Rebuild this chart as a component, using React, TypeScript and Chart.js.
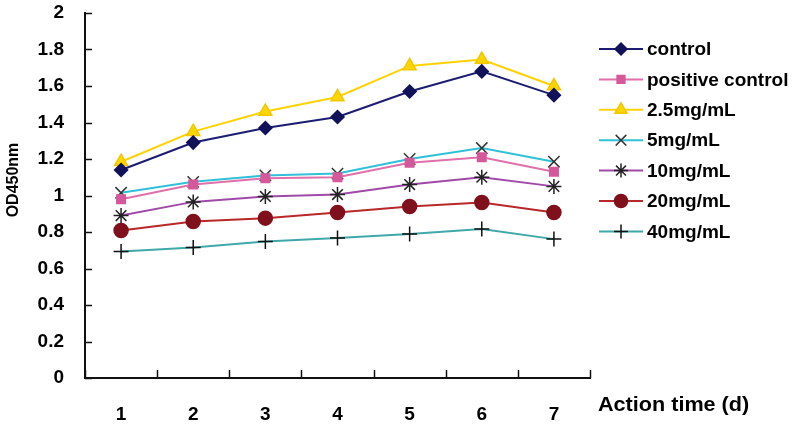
import React, { useEffect, useRef } from "react";
import { Chart, registerables } from "chart.js";
import { drawPoint } from "chart.js/helpers";

Chart.register(...registerables);

const categories = ["1", "2", "3", "4", "5", "6", "7"];
const seriesNames = ["control", "positive control", "2.5mg/mL", "5mg/mL", "10mg/mL", "20mg/mL", "40mg/mL"];
const control = [1.14, 1.29, 1.37, 1.43, 1.57, 1.68, 1.55];
const positiveControl = [0.98, 1.06, 1.094, 1.10, 1.18, 1.21, 1.13];
const mg2_5 = [1.185, 1.35, 1.46, 1.54, 1.71, 1.745, 1.60];
const mg5 = [1.015, 1.075, 1.11, 1.12, 1.20, 1.26, 1.185];
const mg10 = [0.89, 0.965, 0.995, 1.005, 1.06, 1.10, 1.05];
const mg20 = [0.808, 0.858, 0.876, 0.907, 0.94, 0.962, 0.907];
const mg40 = [0.693, 0.715, 0.748, 0.767, 0.789, 0.816, 0.761];
const yTicks = [0, 0.2, 0.4, 0.6, 0.8, 1, 1.2, 1.4, 1.6, 1.8, 2];
const yTitle = "OD450nm";
const xTitle = "Action time (d)";

const FONT = "'Liberation Sans', Arial, sans-serif";

const styles = [
  { line: "#1c1c72", fill: "#12125a", stroke: "#12125a", style: "rectRot", r: 6.5 },
  { line: "#e070aa", fill: "#d4589a", stroke: "#d4589a", style: "rect", r: 6 },
  { line: "#ffd200", fill: "#ffd400", stroke: "#f0c800", style: "triangle", r: 7.5 },
  { line: "#30c0d8", fill: "rgba(0,0,0,0)", stroke: "#333333", style: "crossRot", r: 8 },
  { line: "#a04aa8", fill: "rgba(0,0,0,0)", stroke: "#222222", style: "star", r: 7.5 },
  { line: "#b82828", fill: "#80101c", stroke: "#80101c", style: "circle", r: 7 },
  { line: "#40a8a8", fill: "rgba(0,0,0,0)", stroke: "#111111", style: "cross", r: 7.5 },
];
const seriesData = [control, positiveControl, mg2_5, mg5, mg10, mg20, mg40];

const decorPlugin = {
  id: "decor",
  afterDraw(chart: any) {
    const ctx = chart.ctx;
    const xs = chart.scales.x;
    const ys = chart.scales.y;
    const area = chart.chartArea;
    ctx.save();
    ctx.strokeStyle = "#111";
    ctx.lineWidth = 1.5;
    yTicks.forEach((v) => {
      const y = Math.round(ys.getPixelForValue(v)) + 0.5;
      ctx.beginPath();
      ctx.moveTo(area.left, y);
      ctx.lineTo(area.left + 7, y);
      ctx.stroke();
    });
    const pts = categories.map((_, i) => xs.getPixelForValue(i));
    const half = (pts[1] - pts[0]) / 2;
    const bounds = [pts[0] - half, ...pts.map((p) => p + half)];
    bounds.forEach((b) => {
      const x = Math.round(b) + 0.5;
      ctx.beginPath();
      ctx.moveTo(x, area.bottom);
      ctx.lineTo(x, area.bottom - 8);
      ctx.stroke();
    });
    ctx.fillStyle = "#000";
    ctx.font = `bold 20px ${FONT}`;
    ctx.textBaseline = "middle";
    ctx.textAlign = "left";
    ctx.save();
    ctx.translate(598, 405);
    ctx.scale(1.08, 1);
    ctx.fillText(xTitle, 0, 0);
    ctx.restore();
    ctx.save();
    ctx.translate(14, 180);
    ctx.rotate(-Math.PI / 2);
    ctx.textAlign = "center";
    ctx.font = `bold 16px ${FONT}`;
    ctx.fillText(yTitle, 0, 0);
    ctx.restore();
    ctx.font = `bold 19px ${FONT}`;
    seriesNames.forEach((name, i) => {
      const s = styles[i];
      const y = 49 + 30.4 * i;
      ctx.strokeStyle = s.line;
      ctx.lineWidth = 2;
      ctx.beginPath();
      ctx.moveTo(599, y);
      ctx.lineTo(643, y);
      ctx.stroke();
      ctx.fillStyle = s.fill;
      ctx.strokeStyle = s.stroke;
      ctx.lineWidth = 1.5;
      drawPoint(ctx, { pointStyle: s.style, radius: s.r - 0.5, rotation: 0, borderWidth: 1.5 }, 621, y);
      ctx.fillStyle = "#000";
      ctx.textAlign = "left";
      ctx.fillText(name, 647, y + 1);
    });
    ctx.restore();
  },
};

export default function App() {
  const ref = useRef<HTMLCanvasElement>(null);
  useEffect(() => {
    if (!ref.current) return;
    const chart = new Chart(ref.current, {
      type: "line",
      data: {
        labels: categories,
        datasets: seriesNames.map((name, i) => ({
          label: name,
          data: seriesData[i],
          borderColor: styles[i].line,
          borderWidth: 2,
          backgroundColor: styles[i].fill,
          pointBackgroundColor: styles[i].fill,
          pointBorderColor: styles[i].stroke,
          pointBorderWidth: 1.5,
          pointStyle: styles[i].style as any,
          pointRadius: styles[i].r,
          tension: 0,
          fill: false,
        })),
      },
      options: {
        responsive: false,
        animation: false,
        layout: { autoPadding: false, padding: { top: 13, right: 210, left: 0, bottom: 0 } },
        plugins: {
          legend: { display: false },
          tooltip: { enabled: false },
          title: { display: false },
        },
        scales: {
          x: {
            type: "category",
            offset: true,
            grid: { display: false, drawTicks: false },
            border: { display: true, color: "#111", width: 2 },
            ticks: {
              color: "#000",
              font: { family: FONT, size: 19, weight: "bold" },
              padding: 25,
              maxRotation: 0,
            },
            afterFit: (s: any) => {
              s.height = 46;
              s.paddingLeft = 0;
              s.paddingRight = 0;
            },
          },
          y: {
            min: 0,
            max: 2,
            grid: { display: false, drawTicks: false },
            border: { display: true, color: "#111", width: 2 },
            afterBuildTicks: (s: any) => {
              s.ticks = yTicks.map((v) => ({ value: v }));
            },
            ticks: {
              color: "#000",
              font: { family: FONT, size: 19, weight: "bold" },
              padding: 21,
              callback: (v: any) => String(Number(v)),
            },
            afterFit: (s: any) => {
              s.width = 85;
              s.paddingTop = 0;
              s.paddingBottom = 0;
            },
          },
        },
      },
      plugins: [decorPlugin],
    });
    return () => chart.destroy();
  }, []);
  return (
    <div style={{ position: "fixed", left: 0, top: 0, width: 800, height: 424, background: "#fff" }}>
      <canvas ref={ref} width={800} height={424} style={{ width: 800, height: 424, display: "block" }} />
    </div>
  );
}
